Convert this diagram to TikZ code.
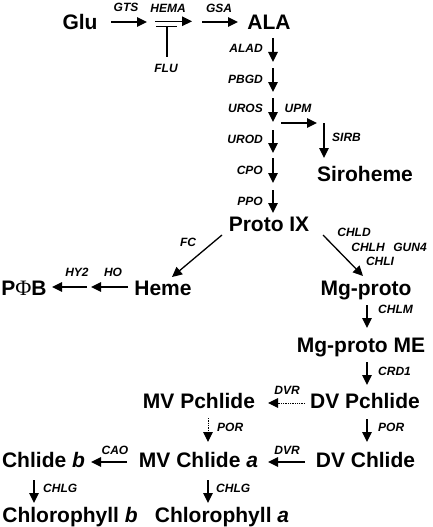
\documentclass[tikz,border=0pt]{standalone}
\usepackage{fontspec}
\setmainfont{Liberation Sans}
\newfontfamily\phifont{Liberation Serif}
\usetikzlibrary{arrows.meta}
\tikzset{
  big/.style={font=\fontsize{21}{24}\selectfont\bfseries, inner sep=0pt, anchor=base},
  enz/.style={font=\fontsize{12}{14}\selectfont\bfseries\itshape, inner sep=0pt},
  rx/.style={line width=1.3pt, -{Triangle[length=10pt,width=9.5pt]}},
  dotrx/.style={rx, densely dotted, line width=1pt},
  bar/.style={line width=1.3pt}
}
\begin{document}
\begin{tikzpicture}[x=1pt,y=-1pt]
\useasboundingbox (0,0) rectangle (432,527);
% main compounds
\node[big] (glu) at (80,30) {Glu};
\node[big] (ala) at (269,30) {ALA};
\node[big] (siro) at (365,181) {Siroheme};
\node[big] (proto) at (269,231.5) {Proto IX};
\node[big] (heme) at (163,295) {Heme};
\node[big] (pob) at (24,295) {P{\phifont\mdseries\fontsize{22}{24}\selectfont Φ}B};
\node[big] (mgp) at (366,295) {Mg-proto};
\node[big] (mgpme) at (361,352) {Mg-proto ME};
\node[big] (dvpc) at (365,408) {DV Pchlide};
\node[big] (mvpc) at (199,408) {MV Pchlide};
\node[big] (dvc) at (365.5,467) {DV Chlide};
\node[big] (mvc) at (198.5,467) {MV Chlide \textit{a}};
\node[big] (chlb) at (43.5,467) {Chlide \textit{b}};
\node[big] (chlorb) at (70,522) {Chlorophyll \textit{b}};
\node[big] (chlora) at (222,522) {Chlorophyll \textit{a}};
% arrow end points
\coordinate (gts1) at (111,22);   \coordinate (gts2) at (147,22);
\coordinate (hema1) at (155,21.3); \coordinate (hema2) at (192,21.3);
\coordinate (flu1) at (167,57);   \coordinate (flu2) at (167,26.7);
\coordinate (tb1) at (156,26.7);  \coordinate (tb2) at (177,26.7);
\coordinate (gsa1) at (202,22);   \coordinate (gsa2) at (238,22);
\coordinate (s1) at (273,38);  \coordinate (s2) at (273,62);
\coordinate (s3) at (273,68);  \coordinate (s4) at (273,92);
\coordinate (s5) at (273,98);  \coordinate (s6) at (273,122);
\coordinate (s7) at (273,130); \coordinate (s8) at (273,153);
\coordinate (s9) at (273,158); \coordinate (s10) at (273,183);
\coordinate (s11) at (273,190); \coordinate (s12) at (273,213);
\coordinate (upm1) at (281,123); \coordinate (upm2) at (317,123);
\coordinate (sirb1) at (324,123); \coordinate (sirb2) at (324,158);
\coordinate (fc1) at (222,235);  \coordinate (fc2) at (172,277);
\coordinate (ho1) at (128,287);  \coordinate (ho2) at (91,287);
\coordinate (hy1) at (87,287);   \coordinate (hy2) at (52,287);
\coordinate (mg1) at (323,235);  \coordinate (mg2) at (363,276);
\coordinate (chlm1) at (367,305); \coordinate (chlm2) at (367,328);
\coordinate (crd1) at (367,362); \coordinate (crd2) at (367,385);
\coordinate (dvr1) at (305,403); \coordinate (dvr2) at (268,403);
\coordinate (porl1) at (208,418); \coordinate (porl2) at (208,442);
\coordinate (porr1) at (367,419); \coordinate (porr2) at (367,442);
\coordinate (dvrb1) at (305,462); \coordinate (dvrb2) at (268,462);
\coordinate (cao1) at (127,462); \coordinate (cao2) at (91,462);
\coordinate (cgl1) at (34,480);  \coordinate (cgl2) at (34,503);
\coordinate (cgr1) at (208,480); \coordinate (cgr2) at (208,503);
% arrows
\draw[rx] (gts1) -- (gts2);
\draw[rx] (hema1) -- (hema2);
\draw[bar] (tb1) -- (tb2);
\draw[bar] (flu1) -- (flu2);
\draw[rx] (gsa1) -- (gsa2);
\draw[rx] (s1) -- (s2);
\draw[rx] (s3) -- (s4);
\draw[rx] (s5) -- (s6);
\draw[rx] (s7) -- (s8);
\draw[rx] (s9) -- (s10);
\draw[rx] (s11) -- (s12);
\draw[rx] (upm1) -- (upm2);
\draw[rx] (sirb1) -- (sirb2);
\draw[rx] (fc1) -- (fc2);
\draw[rx] (ho1) -- (ho2);
\draw[rx] (hy1) -- (hy2);
\draw[rx] (mg1) -- (mg2);
\draw[rx] (chlm1) -- (chlm2);
\draw[rx] (crd1) -- (crd2);
\draw[dotrx] (dvr1) -- (dvr2);
\draw[dotrx] (porl1) -- (porl2);
\draw[rx] (porr1) -- (porr2);
\draw[rx] (dvrb1) -- (dvrb2);
\draw[rx] (cao1) -- (cao2);
\draw[rx] (cgl1) -- (cgl2);
\draw[rx] (cgr1) -- (cgr2);
% enzyme labels
\node[enz] (lgts) at (126,7.5) {GTS};
\node[enz] (lhema) at (168,8) {HEMA};
\node[enz] (lflu) at (166,68) {FLU};
\node[enz] (lgsa) at (219,8) {GSA};
\node[enz,anchor=east] (lalad) at (263,48) {ALAD};
\node[enz,anchor=east] (lpbgd) at (263,79) {PBGD};
\node[enz,anchor=east] (luros) at (263,108) {UROS};
\node[enz,anchor=east] (lurod) at (263,139) {UROD};
\node[enz,anchor=east] (lcpo) at (263,170) {CPO};
\node[enz,anchor=east] (lppo) at (263,201) {PPO};
\node[enz] (lupm) at (298,108) {UPM};
\node[enz,anchor=west] (lsirb) at (332,137) {SIRB};
\node[enz] (lfc) at (188,242) {FC};
\node[enz] (lho) at (113,272) {HO};
\node[enz] (lhy) at (77,272) {HY2};
\node[enz] (lchld) at (354,232) {CHLD};
\node[enz] (lchlh) at (368,247) {CHLH};
\node[enz] (lgun) at (410,247) {GUN4};
\node[enz] (lchli) at (380,261) {CHLI};
\node[enz,anchor=west] (lchlm) at (378,309) {CHLM};
\node[enz,anchor=west] (lcrd) at (378,371) {CRD1};
\node[enz] (ldvr) at (287,390) {DVR};
\node[enz,anchor=west] (lporl) at (217,427) {POR};
\node[enz,anchor=west] (lporr) at (378,427) {POR};
\node[enz] (ldvrb) at (287,450) {DVR};
\node[enz] (lcao) at (115,450) {CAO};
\node[enz,anchor=west] (lcgl) at (43,488) {CHLG};
\node[enz,anchor=west] (lcgr) at (216,488) {CHLG};
\end{tikzpicture}
\end{document}
